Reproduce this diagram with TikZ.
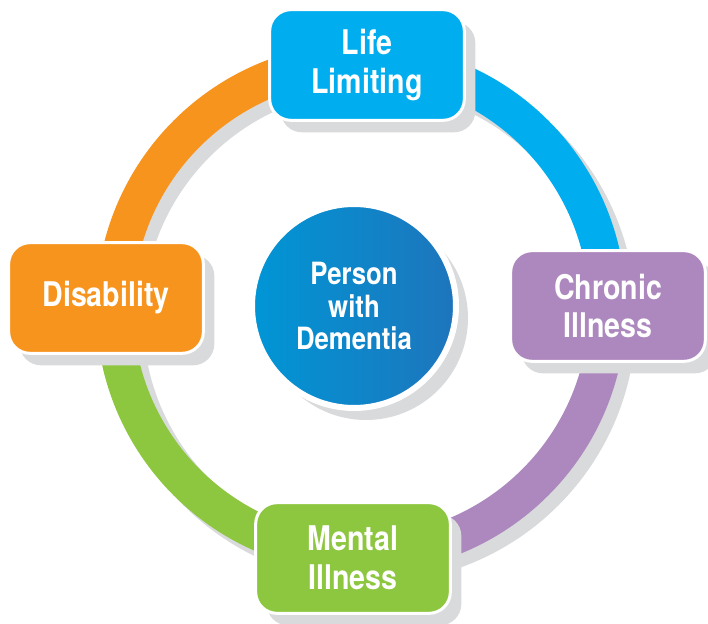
\documentclass[tikz,border=0pt]{standalone}
\usepackage{fontspec}
\setmainfont{TeX Gyre Heros}[FakeStretch=0.84]
\usetikzlibrary{shadows}

\definecolor{lifeblue}{RGB}{0,174,239}
\definecolor{chronicpurple}{RGB}{173,136,190}
\definecolor{mentalgreen}{RGB}{141,198,63}
\definecolor{disabilityorange}{RGB}{247,148,30}
\definecolor{shadowgray}{RGB}{217,218,220}
\definecolor{personleft}{RGB}{0,150,214}
\definecolor{personright}{RGB}{30,117,188}

\tikzset{
  ringpart/.style={line width=27.75pt},
  catbox/.style={rectangle, rounded corners=16pt, draw=white, line width=2.25pt,
    minimum width=146pt, minimum height=83pt, inner sep=0pt,
    text=white, align=center, font=\fontsize{25.5}{29}\selectfont\bfseries,
    drop shadow={shadow xshift=8.25pt, shadow yshift=-9pt, fill=shadowgray, opacity=1}},
  personbubble/.style={circle, draw=white, line width=4.5pt, minimum size=153pt, inner sep=0pt,
    left color=personleft, right color=personright,
    text=white, align=center, font=\fontsize{23}{24.4}\selectfont\bfseries,
    drop shadow={shadow xshift=9pt, shadow yshift=-9pt, fill=shadowgray, opacity=1}},
}

\begin{document}
\begin{tikzpicture}[x=0.75pt,y=0.75pt,yscale=-1,xscale=1]
\useasboundingbox (0,0) rectangle (708,624);
\coordinate (hub) at (361,308);

%Ring shadow
\draw [ringpart, color=shadowgray] (371,318) circle [radius=246.5];
%Ring, one arc per quarter
\draw [ringpart, color=lifeblue] (hub) ++(-90:246.5) arc [start angle=-90, end angle=0, radius=246.5];
\draw [ringpart, color=chronicpurple] (hub) ++(0:246.5) arc [start angle=0, end angle=90, radius=246.5];
\draw [ringpart, color=mentalgreen] (hub) ++(90:246.5) arc [start angle=90, end angle=180, radius=246.5];
\draw [ringpart, color=disabilityorange] (hub) ++(180:246.5) arc [start angle=180, end angle=270, radius=246.5];

% Center Node
\node [personbubble] (person) at (354,306) {Person\\with\\Dementia};

% Box Nodes
\node [catbox, fill=lifeblue] (life) at (367,65) {Life\\Limiting};
\node [catbox, fill=chronicpurple] (chronic) at (608,306) {Chronic\\Illness};
\node [catbox, fill=mentalgreen] (mental) at (353,558) {Mental\\Illness};
\node [catbox, fill=disabilityorange] (disability) at (106,298) {Disability};

\end{tikzpicture}
\end{document}
